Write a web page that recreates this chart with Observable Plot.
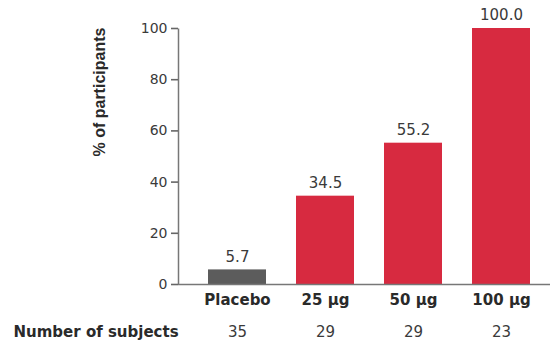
<!DOCTYPE html>
<html>
<head>
<meta charset="utf-8">
<script src="https://cdn.jsdelivr.net/npm/d3@7"></script>
<script src="https://cdn.jsdelivr.net/npm/@observablehq/plot@0.6"></script>
<style>
  body { margin: 0; background: #fff; }
</style>
</head>
<body>
<div id="chart"></div>
<script>
const categories = ["Placebo", "25 µg", "50 µg", "100 µg"];
const values = [5.7, 34.5, 55.2, 100.0];
const subjects = [35, 29, 29, 23];
const colors = ["#5c5c5c", "#d72a40", "#d72a40", "#d72a40"];
const yTicks = [0, 20, 40, 60, 80, 100];
const yLabel = "% of participants";
const rowLabel = "Number of subjects";

const data = categories.map((c, i) => ({cat: c, value: values[i], n: subjects[i], color: colors[i]}));
const F = "DejaVu Sans, sans-serif";

const chart = Plot.plot({
  width: 550,
  height: 350,
  marginLeft: 178,
  marginRight: 0,
  marginTop: 28,
  marginBottom: 66,
  style: {fontFamily: F, background: "#fff"},
  x: {domain: categories, paddingInner: 0.344, paddingOuter: 0.172, insetLeft: 14.5, insetRight: 3.9, axis: null},
  y: {domain: [0, 100], axis: null},
  marks: [
    Plot.barY(data, {x: "cat", y: "value", fill: "color"}),
    Plot.frame({stroke: "#777", strokeWidth: 1.5, strokeDasharray: "0 1000 256"}),
    Plot.ruleY([0], {stroke: "#777", strokeWidth: 1.5}),
    Plot.axisY({ticks: yTicks, anchor: "left", tickSize: 7, tickPadding: 4, fontSize: 14, stroke: "#666", strokeWidth: 1.6, fill: "#3a3a3a", label: null, tickFormat: d => d}),
    Plot.text(data, {x: "cat", y: "value", text: d => d.value.toFixed(1), dy: -13, fontSize: 15, fill: "#3a3a3a"}),
    Plot.text(data, {x: "cat", text: "cat", frameAnchor: "bottom", dy: 20, fontSize: 15, fontWeight: "bold", fill: "#2a2a2a"}),
    Plot.text(data, {x: "cat", text: d => String(d.n), frameAnchor: "bottom", dy: 52, fontSize: 15, fill: "#3a3a3a"}),
    Plot.text([rowLabel], {frameAnchor: "bottom-left", dx: -165, dy: 52, textAnchor: "start", fontSize: 15, fontWeight: "bold", fill: "#2a2a2a"}),
    Plot.text([yLabel], {frameAnchor: "left", dx: -79, rotate: -90, fontSize: 16, fontWeight: "bold", fontFamily: "Liberation Sans, Arial, sans-serif", fill: "#2a2a2a"})
  ]
});
document.getElementById("chart").append(chart);
</script>
</body>
</html>
